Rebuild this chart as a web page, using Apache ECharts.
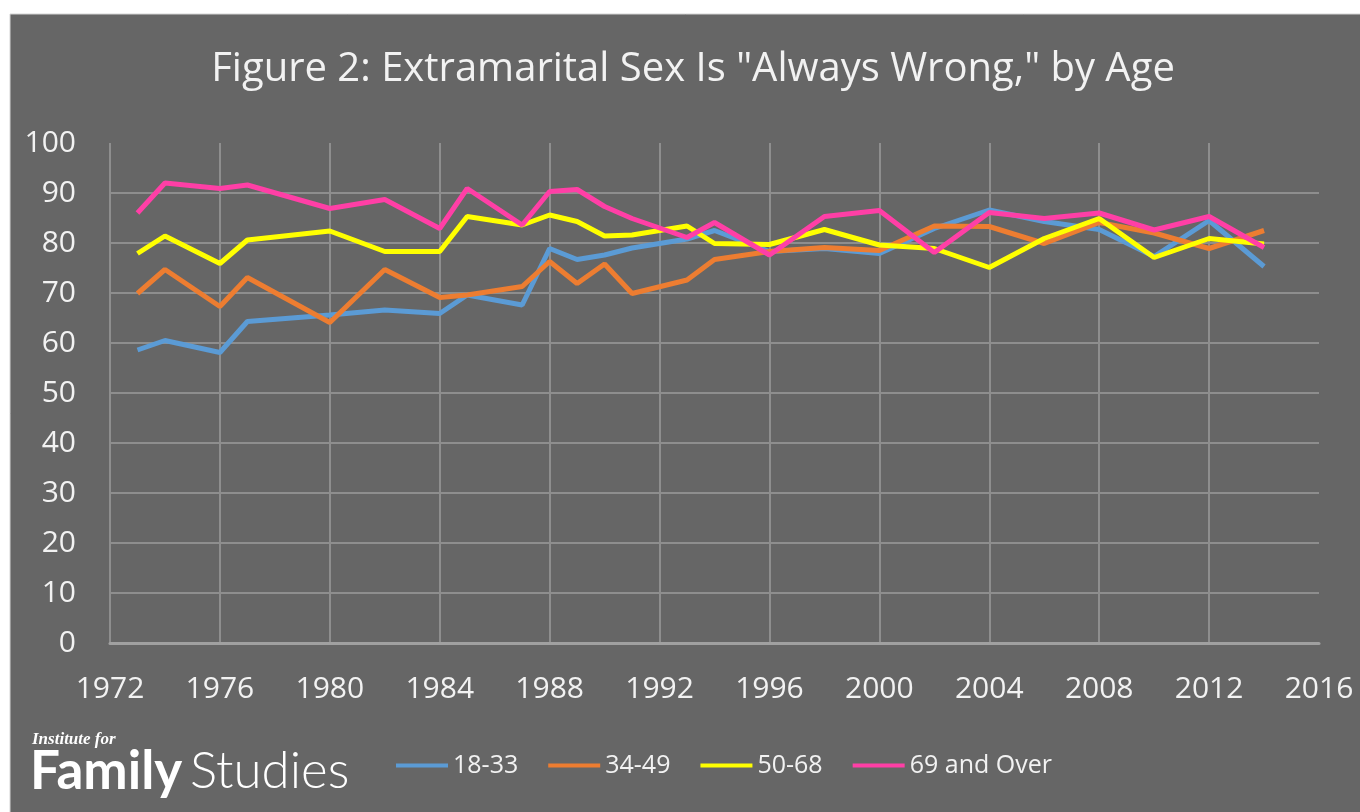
<!DOCTYPE html>
<html>
<head>
<meta charset="utf-8">
<title>Extramarital Sex Is "Always Wrong," by Age</title>
<script src="https://cdn.jsdelivr.net/npm/echarts@6/dist/echarts.min.js"></script>
<style>
  html, body { margin: 0; padding: 0; background: #ffffff; }
  #chart { width: 1360px; height: 812px; }
</style>
</head>
<body>
<div id="chart"></div>
<script>
// survey years (GSS)
const years = [1973, 1974, 1976, 1977, 1980, 1982, 1984, 1985, 1987, 1988, 1989, 1990, 1991,
  1993, 1994, 1996, 1998, 2000, 2002, 2004, 2006, 2008, 2010, 2012, 2014];

// percent saying "always wrong"
const age18to33 = [58.6, 60.5, 58.1, 64.3, 65.6, 66.6, 65.9, 69.6, 67.6, 78.9, 76.7, 77.6, 79.0,
  80.8, 82.5, 78.3, 78.9, 77.9, 82.9, 86.6, 84.3, 82.7, 77.3, 84.5, 75.3];
const age34to49 = [69.9, 74.7, 67.3, 73.1, 64.1, 74.7, 69.1, 69.6, 71.3, 76.3, 71.9, 75.8, 69.9,
  72.6, 76.7, 78.3, 79.1, 78.5, 83.4, 83.3, 79.9, 84.1, 82.0, 78.9, 82.5];
const age50to68 = [77.9, 81.4, 75.9, 80.6, 82.4, 78.3, 78.3, 85.3, 83.6, 85.6, 84.3, 81.4, 81.6,
  83.4, 79.9, 79.7, 82.7, 79.6, 78.9, 75.1, 80.9, 84.9, 77.1, 80.9, 79.8];
const age69plus = [86.0, 92.0, 90.9, 91.6, 86.9, 88.7, 82.9, 90.9, 83.6, 90.3, 90.7, 87.3, 84.9,
  81.1, 84.1, 77.6, 85.3, 86.5, 78.1, 86.1, 84.9, 86.0, 82.6, 85.3, 79.1];

const seriesNames = ['18-33', '34-49', '50-68', '69 and Over'];
const seriesColors = ['#5b9bd5', '#ed7d31', '#ffff00', '#ff3fa6'];

const xTicks = {min: 1972, max: 2016, interval: 4};
const yTicks = {min: 0, max: 100, interval: 10};

const chart = echarts.init(document.getElementById('chart'));

const makeLine = (name, values, color) => ({
  name: name,
  type: 'line',
  data: years.map((y, i) => [y, values[i]]),
  showSymbol: false,
  symbol: 'none',
  lineStyle: { color: color, width: 5 },
  itemStyle: { color: color },
  animation: false
});

const options = {
  backgroundColor: '#ffffff',
  textStyle: { fontFamily: '"Open Sans", sans-serif' },
  title: {
    text: 'Figure 2: Extramarital Sex Is "Always Wrong," by Age',
    left: 688,
    textAlign: 'center',
    top: 45,
    textStyle: { color: '#f2f2f2', fontSize: 40, fontWeight: 'normal', fontFamily: 'Open Sans' }
  },
  // dark panel plus the logo text
  graphic: [
    {
      type: 'rect', z: -10, silent: true,
      shape: { x: 10, y: 14, width: 1360, height: 812 },
      style: { fill: '#666666', stroke: '#d4d4d4', lineWidth: 1 }
    },
    {
      type: 'text', left: 32, top: 731,
      style: { text: 'Institute for', fill: '#ffffff', font: 'italic bold 17px "Liberation Serif", serif' }
    },
    {
      type: 'text', left: 30, top: 745,
      style: { text: 'Family', fill: '#ffffff', font: 'bold 53px Lato' }
    },
    {
      type: 'text', left: 190, top: 746,
      style: { text: 'Studies', fill: '#ffffff', font: '300 51px Lato' }
    }
  ],
  legend: {
    data: seriesNames,
    icon: 'rect',
    left: 391,
    top: 748,
    itemWidth: 52,
    itemHeight: 4,
    itemGap: 30,
    textStyle: { color: '#f2f2f2', fontSize: 25, fontFamily: 'Open Sans' }
  },
  grid: { left: 110, right: 41, top: 143, bottom: 169 },
  xAxis: {
    type: 'value',
    min: xTicks.min,
    max: xTicks.max,
    interval: xTicks.interval,
    axisLine: { show: true, lineStyle: { color: '#a0a0a0', width: 3 } },
    axisTick: { show: false },
    axisLabel: { color: '#f2f2f2', fontSize: 30, margin: 31, formatter: v => String(v) },
    splitLine: { show: true, showMinLine: true, showMaxLine: false,
      lineStyle: { color: '#8e8e8e', width: 2 } }
  },
  yAxis: {
    type: 'value',
    min: yTicks.min,
    max: yTicks.max,
    interval: yTicks.interval,
    axisLine: { show: false },
    axisTick: { show: false },
    axisLabel: { color: '#f2f2f2', fontSize: 30, margin: 34 },
    splitLine: { show: true, showMinLine: false, showMaxLine: false,
      lineStyle: { color: '#8e8e8e', width: 2 } }
  },
  series: [
    makeLine(seriesNames[0], age18to33, seriesColors[0]),
    makeLine(seriesNames[1], age34to49, seriesColors[1]),
    makeLine(seriesNames[2], age50to68, seriesColors[2]),
    makeLine(seriesNames[3], age69plus, seriesColors[3])
  ]
};

chart.setOption(options);
</script>
</body>
</html>
